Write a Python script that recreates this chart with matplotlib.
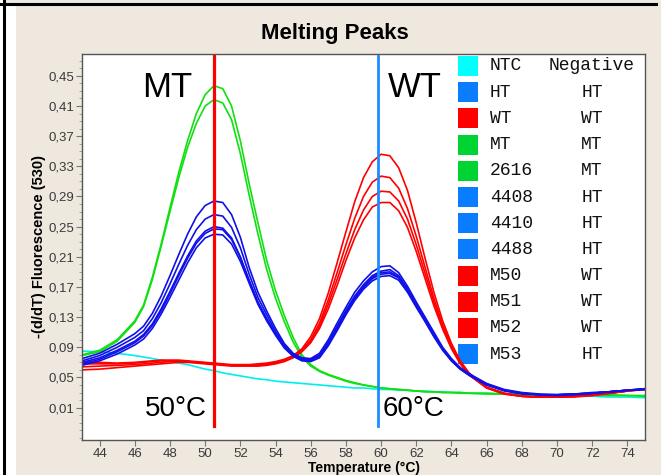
import matplotlib
matplotlib.use("Agg")
import matplotlib.pyplot as plt
from matplotlib.patches import Rectangle
from matplotlib.ticker import MultipleLocator, FuncFormatter
from matplotlib.lines import Line2D

# temperature grid (deg C)
temps = [43, 44, 45, 46, 46.5, 47, 47.5, 48, 48.5, 49, 49.5, 50, 50.5, 51, 51.5,
         52, 52.5, 53, 53.5, 54, 54.5, 55, 55.5, 56, 56.5, 57, 57.5, 58, 58.5,
         59, 59.5, 60, 60.5, 61, 61.5, 62, 62.5, 63, 63.5, 64, 64.5, 65,
         66, 67, 68, 69, 70, 71, 72, 73, 74, 75]

ntc = [0.085, 0.084, 0.082, 0.079, 0.077, 0.075, 0.073, 0.071, 0.069, 0.067, 0.064,
       0.061, 0.059, 0.056, 0.054, 0.052, 0.050, 0.048, 0.047, 0.045, 0.044, 0.043,
       0.042, 0.041, 0.040, 0.039, 0.038, 0.037, 0.036, 0.036, 0.035, 0.034, 0.034,
       0.033, 0.033, 0.032, 0.032, 0.031, 0.031, 0.030, 0.030, 0.029, 0.029, 0.028,
       0.027, 0.027, 0.026, 0.026, 0.025, 0.024, 0.024, 0.023]

mt = [0.080, 0.086, 0.100, 0.125, 0.146, 0.183, 0.227, 0.275, 0.322, 0.364, 0.400,
      0.425, 0.437, 0.433, 0.410, 0.364, 0.307, 0.255, 0.205, 0.165, 0.132, 0.103,
      0.080, 0.067, 0.059, 0.054, 0.050, 0.046, 0.043, 0.040, 0.038, 0.036, 0.035,
      0.034, 0.033, 0.032, 0.031, 0.031, 0.030, 0.030, 0.030, 0.029, 0.029, 0.028,
      0.028, 0.027, 0.027, 0.027, 0.027, 0.027, 0.026, 0.026]

s2616 = [0.079, 0.084, 0.098, 0.123, 0.144, 0.180, 0.224, 0.270, 0.315, 0.355, 0.387,
         0.410, 0.4185, 0.414, 0.392, 0.347, 0.292, 0.240, 0.193, 0.155, 0.124, 0.097,
         0.077, 0.065, 0.058, 0.053, 0.049, 0.045, 0.042, 0.040, 0.038, 0.036, 0.035,
         0.034, 0.033, 0.032, 0.031, 0.031, 0.030, 0.030, 0.029, 0.029, 0.028, 0.028,
         0.027, 0.027, 0.027, 0.026, 0.026, 0.026, 0.026, 0.025]

ht = [0.075, 0.082, 0.094, 0.108, 0.118, 0.135, 0.158, 0.185, 0.213, 0.240, 0.263,
      0.278, 0.284, 0.282, 0.266, 0.236, 0.196, 0.163, 0.138, 0.115, 0.095, 0.082,
      0.076, 0.075, 0.082, 0.100, 0.122, 0.143, 0.163, 0.178, 0.190, 0.197, 0.198,
      0.189, 0.171, 0.150, 0.130, 0.110, 0.090, 0.075, 0.063, 0.055, 0.042, 0.034,
      0.030, 0.028, 0.027, 0.028, 0.029, 0.031, 0.033, 0.035]

s4408 = [0.072, 0.079, 0.090, 0.103, 0.112, 0.128, 0.149, 0.174, 0.200, 0.225, 0.246,
         0.260, 0.266, 0.264, 0.249, 0.222, 0.187, 0.156, 0.133, 0.111, 0.093, 0.081,
         0.075, 0.074, 0.080, 0.097, 0.118, 0.139, 0.158, 0.173, 0.185, 0.191, 0.193,
         0.185, 0.168, 0.147, 0.127, 0.107, 0.088, 0.073, 0.062, 0.054, 0.041, 0.033,
         0.029, 0.027, 0.027, 0.028, 0.029, 0.031, 0.033, 0.034]

s4410 = [0.070, 0.076, 0.086, 0.098, 0.107, 0.121, 0.141, 0.164, 0.188, 0.211, 0.231,
         0.244, 0.250, 0.248, 0.235, 0.210, 0.179, 0.150, 0.128, 0.108, 0.091, 0.080,
         0.074, 0.073, 0.079, 0.095, 0.116, 0.137, 0.156, 0.171, 0.183, 0.189, 0.190,
         0.183, 0.166, 0.146, 0.126, 0.106, 0.088, 0.073, 0.062, 0.054, 0.041, 0.033,
         0.029, 0.027, 0.027, 0.028, 0.030, 0.031, 0.033, 0.035]

s4488 = [0.068, 0.074, 0.084, 0.096, 0.105, 0.119, 0.138, 0.161, 0.185, 0.208, 0.228,
         0.241, 0.247, 0.246, 0.233, 0.209, 0.178, 0.149, 0.127, 0.107, 0.090, 0.079,
         0.073, 0.072, 0.078, 0.094, 0.114, 0.135, 0.154, 0.169, 0.181, 0.187, 0.188,
         0.182, 0.165, 0.145, 0.125, 0.105, 0.087, 0.072, 0.061, 0.053, 0.040, 0.033,
         0.029, 0.027, 0.027, 0.028, 0.029, 0.031, 0.033, 0.034]

m53 = [0.066, 0.072, 0.081, 0.093, 0.101, 0.115, 0.134, 0.156, 0.179, 0.202, 0.222,
       0.235, 0.240, 0.239, 0.227, 0.204, 0.175, 0.147, 0.125, 0.106, 0.089, 0.078,
       0.072, 0.071, 0.076, 0.092, 0.112, 0.133, 0.152, 0.167, 0.178, 0.184, 0.185,
       0.179, 0.163, 0.143, 0.124, 0.104, 0.086, 0.072, 0.061, 0.053, 0.040, 0.032,
       0.028, 0.027, 0.026, 0.027, 0.029, 0.031, 0.033, 0.035]

wt = [0.070, 0.070, 0.069, 0.070, 0.071, 0.072, 0.073, 0.073, 0.073, 0.072, 0.071,
      0.070, 0.069, 0.068, 0.067, 0.067, 0.067, 0.068, 0.069, 0.071, 0.074, 0.079,
      0.088, 0.104, 0.128, 0.162, 0.202, 0.243, 0.283, 0.315, 0.336, 0.346, 0.344,
      0.328, 0.298, 0.255, 0.208, 0.163, 0.125, 0.095, 0.072, 0.056, 0.037, 0.029,
      0.025, 0.024, 0.024, 0.024, 0.026, 0.029, 0.032, 0.035]

m50 = [0.068, 0.068, 0.068, 0.069, 0.070, 0.071, 0.072, 0.072, 0.072, 0.071, 0.070,
       0.069, 0.068, 0.067, 0.066, 0.066, 0.066, 0.067, 0.068, 0.070, 0.073, 0.078,
       0.086, 0.100, 0.122, 0.153, 0.189, 0.226, 0.261, 0.290, 0.309, 0.317, 0.315,
       0.301, 0.274, 0.237, 0.196, 0.155, 0.120, 0.092, 0.070, 0.055, 0.037, 0.029,
       0.025, 0.024, 0.024, 0.025, 0.026, 0.029, 0.032, 0.034]

m51 = [0.064, 0.065, 0.066, 0.067, 0.068, 0.069, 0.070, 0.071, 0.071, 0.071, 0.070,
       0.069, 0.068, 0.067, 0.066, 0.066, 0.066, 0.066, 0.067, 0.069, 0.072, 0.077,
       0.085, 0.098, 0.118, 0.147, 0.180, 0.214, 0.246, 0.272, 0.290, 0.297, 0.296,
       0.284, 0.260, 0.226, 0.188, 0.150, 0.117, 0.090, 0.069, 0.054, 0.036, 0.028,
       0.025, 0.024, 0.024, 0.025, 0.027, 0.029, 0.032, 0.035]

m52 = [0.060, 0.061, 0.063, 0.065, 0.066, 0.067, 0.068, 0.069, 0.070, 0.070, 0.069,
       0.068, 0.067, 0.066, 0.065, 0.065, 0.065, 0.065, 0.066, 0.068, 0.071, 0.076,
       0.084, 0.096, 0.115, 0.141, 0.172, 0.205, 0.235, 0.259, 0.276, 0.282, 0.282,
       0.271, 0.249, 0.217, 0.181, 0.145, 0.114, 0.088, 0.068, 0.053, 0.036, 0.028,
       0.025, 0.024, 0.024, 0.025, 0.027, 0.029, 0.032, 0.034]

# legend table
sample_names = ["NTC", "HT", "WT", "MT", "2616", "4408", "4410", "4488",
                "M50", "M51", "M52", "M53"]
sample_calls = ["Negative", "HT", "WT", "MT", "MT", "HT", "HT", "HT",
                "WT", "WT", "WT", "HT"]
call_colors = {"Negative": "#00FFFF", "HT": "#0A7CFF", "WT": "#FF0000", "MT": "#00D433"}

curve_groups = [
    ([ntc], "#00EEEE"),
    ([mt, s2616], "#10E010"),
    ([wt, m50, m51, m52], "#FF0000"),
    ([ht, s4408, s4410, s4488, m53], "#1010E8"),
]

mt_temp = 50.5
wt_temp = 59.8

bg = "#EEE8DF"
fig = plt.figure(figsize=(6.61, 4.75), dpi=100, facecolor=bg)
plt.rcParams['font.family'] = ['Liberation Sans', 'DejaVu Sans']

# window frame: black top/left edge and white strip
fig.add_artist(Rectangle((0, 0), 6 / 661, 1, transform=fig.transFigure,
                         facecolor="white", edgecolor="none"))
fig.add_artist(Line2D([4 / 661, 4 / 661], [0, 1], transform=fig.transFigure,
                      color="black", lw=2.2))
fig.add_artist(Line2D([0, 656 / 661], [1 - 4 / 475, 1 - 4 / 475],
                      transform=fig.transFigure, color="black", lw=2.2))
fig.add_artist(Rectangle((6 / 661, 0), 10 / 661, 1 - 5 / 475, transform=fig.transFigure,
                         facecolor="white", edgecolor="none"))

ax = fig.add_axes([82 / 661, 35 / 475, 563 / 661, 386 / 475])
ax.set_facecolor("white")

for series, col in curve_groups:
    for ys in series:
        ax.plot(temps, ys, color=col, lw=1.2, solid_joinstyle="round")

ax.plot([mt_temp, mt_temp], [-0.015, 0.476], color="#FF0000", lw=2.3)
ax.plot([wt_temp, wt_temp], [-0.015, 0.476], color="#1A8CFF", lw=2.0)

ax.set_xlim(43, 75)
ax.set_ylim(-0.033, 0.479)
ax.xaxis.set_major_locator(MultipleLocator(2))
ax.yaxis.set_minor_locator(MultipleLocator(0.01))
ax.xaxis.set_major_formatter(FuncFormatter(lambda v, p: f"{v:.0f}"))
ax.yaxis.set_major_formatter(FuncFormatter(lambda v, p: f"{v:.2f}".replace(".", ",")))
ax.set_yticks([0.01 + 0.04 * i for i in range(12)])
ax.tick_params(axis="both", which="major", length=4, color="#777777",
               labelsize=9.5, labelcolor="#3A3A3A", pad=1.5)
ax.tick_params(axis="y", which="minor", length=2, color="#999999")
for s in ax.spines.values():
    s.set_color("#555555")
    s.set_linewidth(1.0)

ax.set_xlabel("Temperature (°C)", fontsize=10, fontweight="bold", labelpad=1)
ax.set_ylabel("-(d/dT) Fluorescence (530)", fontsize=10.5, fontweight="bold", labelpad=2)
fig.text(0.507, 1 - 33 / 475, "Melting Peaks", ha="center", va="center",
         fontsize=16, fontweight="bold")

# big annotations
ax.text(46.4, 0.435, "MT", fontsize=25, ha="left", va="center")
ax.text(60.4, 0.435, "WT", fontsize=25, ha="left", va="center")
ax.text(50.1, 0.008, "50°C", fontsize=20, ha="right", va="center")
ax.text(60.1, 0.008, "60°C", fontsize=20, ha="left", va="center")

# legend drawn as a table over the plot
for i, (name, call) in enumerate(zip(sample_names, sample_calls)):
    yc = 1 - (66 - 54 + 26.2 * i) / 386
    ax.add_patch(Rectangle(((458 - 82) / 563, yc - 10 / 386), 20 / 563, 20 / 386,
                           transform=ax.transAxes, facecolor=call_colors[call],
                           edgecolor="none", clip_on=False))
    ax.text((490 - 82) / 563, yc, name, transform=ax.transAxes, ha="left",
            va="center", fontsize=13, family="Liberation Mono", color="#111111")
    ax.text((592 - 82) / 563, yc, call, transform=ax.transAxes, ha="center",
            va="center", fontsize=13, family="Liberation Mono", color="#111111")

fig.savefig("out.png", dpi=100, facecolor=bg)
